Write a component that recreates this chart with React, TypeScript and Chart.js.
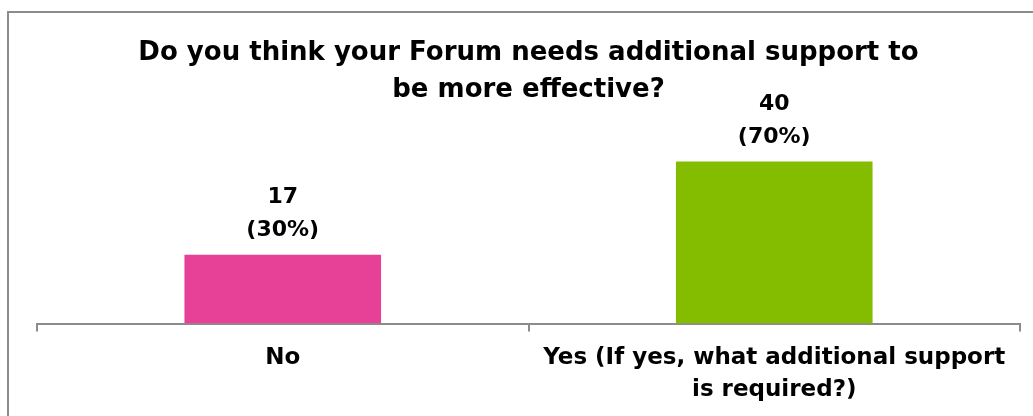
import React, { useEffect, useRef } from "react";
import { Chart, registerables } from "chart.js";

Chart.register(...registerables);

const categories: (string | string[])[] = [
  "No",
  ["Yes (If yes, what additional support", "is required?)"],
];
const counts = [17, 40];
const percents = [30, 70];
const barColors = ["#E64097", "#84BD00"];
const titleLines = [
  "Do you think your Forum needs additional support to",
  "be more effective?",
];

const FONT = "'DejaVu Sans', Verdana, sans-serif";

const labelPlugin = {
  id: "barLabels",
  afterDatasetsDraw(chart: any) {
    const ctx = chart.ctx;
    const meta = chart.getDatasetMeta(0);
    ctx.save();
    ctx.font = `bold 22px ${FONT}`;
    ctx.fillStyle = "#000";
    ctx.textAlign = "center";
    ctx.textBaseline = "alphabetic";
    meta.data.forEach((bar: any, i: number) => {
      const x = bar.x;
      const y = bar.y;
      ctx.fillText(`(${percents[i]}%)`, x, y - 19);
      ctx.fillText(String(counts[i]), x, y - 52);
    });
    ctx.restore();
  },
};

export default function App() {
  const ref = useRef<HTMLCanvasElement>(null);
  useEffect(() => {
    if (!ref.current) return;
    const chart = new Chart(ref.current, {
      type: "bar",
      data: {
        labels: categories,
        datasets: [
          {
            data: counts,
            backgroundColor: barColors,
            borderWidth: 0,
            barPercentage: 0.4,
            categoryPercentage: 1,
          },
        ],
      },
      options: {
        responsive: false,
        animation: false,
        layout: { padding: { left: 37, right: 13, top: 0, bottom: 0 } },
        plugins: {
          legend: { display: false },
          tooltip: { enabled: false },
          title: {
            display: true,
            text: titleLines,
            color: "#000",
            font: { family: FONT, size: 26, weight: "bold", lineHeight: 1.42 },
            padding: { top: 35, bottom: 0 },
          },
        },
        scales: {
          x: {
            grid: {
              display: true,
              drawOnChartArea: false,
              drawTicks: true,
              tickLength: 8,
              color: "#8c8c8c",
              lineWidth: 2,
              offset: true,
            },
            border: { display: true, color: "#8c8c8c", width: 2 },
            ticks: {
              color: "#000",
              font: { family: FONT, size: 23, weight: "bold", lineHeight: 1.4 },
              maxRotation: 0,
              autoSkip: false,
              padding: 10,
            },
          },
          y: {
            display: false,
            min: 0,
            max: 53,
          },
        },
      },
      plugins: [labelPlugin],
    });
    return () => chart.destroy();
  }, []);
  return (
    <div>
      <canvas
        ref={ref}
        width={1033}
        height={416}
        style={{ position: "absolute", left: 0, top: 0, width: 1033, height: 416 }}
      />
      <div
        style={{
          position: "absolute",
          left: 7,
          top: 11,
          width: 1040,
          height: 420,
          borderLeft: "2px solid #8c8c8c",
          borderTop: "2px solid #8c8c8c",
          boxSizing: "border-box",
          pointerEvents: "none",
        }}
      />
    </div>
  );
}
